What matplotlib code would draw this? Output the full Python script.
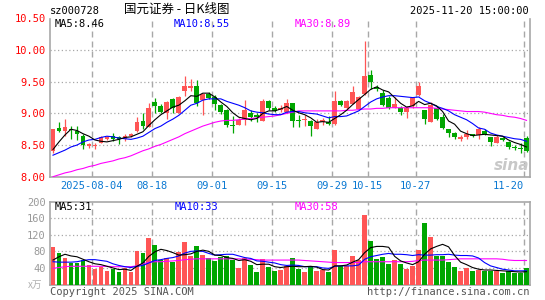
import matplotlib
matplotlib.use('Agg')
import matplotlib.pyplot as plt

# daily K line, sz000728, 2025-07-24 .. 2025-11-20 (80 trading days)
opens = [8.41, 8.77, 8.73, 8.76, 8.73, 8.64, 8.49, 8.49, 8.54, 8.60,
         8.65, 8.63, 8.60, 8.65, 8.72, 8.88, 8.79, 9.18, 9.12, 9.01,
         9.23, 9.01, 9.35, 9.40, 9.44, 9.21, 9.30, 9.26, 9.13, 9.05,
         8.82, 8.82, 8.89, 9.00, 8.97, 8.88, 9.20, 9.08, 9.05, 9.03,
         9.17, 8.90, 8.89, 8.88, 8.75, 8.87, 8.86, 8.83, 9.19, 9.08,
         9.15, 9.07, 9.31, 9.61, 9.41, 9.33, 9.25, 9.09, 9.09, 9.03,
         9.11, 9.29, 9.06, 8.87, 9.09, 8.94, 8.75, 8.69, 8.59, 8.62,
         8.67, 8.66, 8.73, 8.62, 8.54, 8.61, 8.55, 8.47, 8.45, 8.61]
highs = [8.76, 8.87, 8.91, 8.80, 8.80, 8.68, 8.54, 8.54, 8.64, 8.64,
         8.69, 8.64, 8.67, 8.69, 8.94, 9.00, 9.16, 9.25, 9.15, 9.19,
         9.24, 9.27, 9.59, 9.54, 9.53, 9.31, 9.34, 9.29, 9.15, 9.07,
         8.96, 8.92, 9.21, 9.05, 9.00, 9.22, 9.21, 9.11, 9.13, 9.22,
         9.17, 8.97, 8.97, 8.90, 8.91, 8.92, 8.96, 9.35, 9.21, 9.21,
         9.43, 9.27, 10.14, 9.68, 9.45, 9.37, 9.28, 9.26, 9.12, 9.12,
         9.25, 9.50, 9.06, 9.18, 9.12, 8.99, 8.75, 8.71, 8.66, 8.74,
         8.68, 8.78, 8.75, 8.63, 8.66, 8.62, 8.57, 8.50, 8.53, 8.64]
lows = [8.38, 8.71, 8.64, 8.60, 8.58, 8.44, 8.46, 8.43, 8.53, 8.58,
        8.56, 8.52, 8.57, 8.63, 8.71, 8.75, 8.78, 9.01, 9.00, 8.91,
        9.00, 9.00, 9.27, 9.35, 9.12, 8.97, 9.23, 9.06, 8.99, 8.79,
        8.69, 8.81, 8.82, 8.88, 8.87, 8.88, 9.05, 9.02, 9.03, 9.00,
        8.79, 8.79, 8.80, 8.64, 8.75, 8.82, 8.82, 8.82, 9.12, 9.07,
        9.15, 9.05, 9.29, 9.39, 9.36, 9.12, 9.07, 9.08, 8.98, 8.93,
        9.08, 9.27, 8.83, 8.86, 8.89, 8.76, 8.63, 8.59, 8.57, 8.60,
        8.62, 8.60, 8.66, 8.49, 8.53, 8.56, 8.44, 8.42, 8.38, 8.39]
closes = [8.75, 8.73, 8.78, 8.74, 8.67, 8.50, 8.51, 8.50, 8.62, 8.63,
          8.60, 8.59, 8.64, 8.67, 8.86, 8.80, 9.08, 9.11, 9.03, 9.18,
          9.09, 9.26, 9.43, 9.43, 9.16, 9.31, 9.25, 9.15, 9.03, 8.81,
          8.80, 8.89, 9.05, 8.94, 8.94, 9.20, 9.08, 9.04, 9.08, 9.17,
          8.88, 8.88, 8.90, 8.80, 8.86, 8.89, 8.84, 9.19, 9.13, 9.19,
          9.34, 9.26, 9.59, 9.50, 9.39, 9.13, 9.09, 9.15, 9.03, 9.09,
          9.24, 9.43, 8.91, 9.13, 8.91, 8.77, 8.69, 8.63, 8.62, 8.68,
          8.64, 8.75, 8.67, 8.55, 8.63, 8.58, 8.47, 8.45, 8.44, 8.41]

# price moving averages as shown on the chart
ma5 = [8.43, 8.55, 8.66, 8.75, 8.73, 8.68, 8.64, 8.58, 8.56, 8.55,
       8.57, 8.59, 8.62, 8.63, 8.67, 8.71, 8.81, 8.90, 8.98, 9.04,
       9.10, 9.13, 9.20, 9.28, 9.27, 9.32, 9.32, 9.26, 9.18, 9.11,
       9.01, 8.94, 8.92, 8.90, 8.92, 9.00, 9.04, 9.04, 9.07, 9.11,
       9.05, 9.01, 8.98, 8.93, 8.86, 8.87, 8.86, 8.92, 8.98, 9.05,
       9.14, 9.22, 9.30, 9.38, 9.42, 9.37, 9.34, 9.25, 9.16, 9.10,
       9.12, 9.19, 9.14, 9.16, 9.12, 9.03, 8.88, 8.83, 8.72, 8.68,
       8.65, 8.66, 8.67, 8.66, 8.65, 8.64, 8.58, 8.54, 8.51, 8.47]
ma10 = [8.34, 8.38, 8.42, 8.47, 8.50, 8.55, 8.58, 8.59, 8.62, 8.64,
        8.63, 8.61, 8.60, 8.59, 8.61, 8.64, 8.70, 8.76, 8.80, 8.86,
        8.91, 8.97, 9.05, 9.13, 9.16, 9.21, 9.23, 9.23, 9.23, 9.19,
        9.16, 9.13, 9.09, 9.04, 9.02, 9.01, 8.99, 8.98, 8.98, 9.02,
        9.03, 9.03, 9.01, 9.00, 8.99, 8.96, 8.93, 8.95, 8.95, 8.96,
        9.00, 9.04, 9.11, 9.18, 9.23, 9.26, 9.28, 9.28, 9.27, 9.26,
        9.25, 9.26, 9.20, 9.16, 9.11, 9.08, 9.04, 8.98, 8.94, 8.90,
        8.84, 8.77, 8.75, 8.69, 8.66, 8.64, 8.62, 8.60, 8.59, 8.56]
ma30 = [8.00, 8.03, 8.06, 8.08, 8.11, 8.13, 8.16, 8.18, 8.21, 8.23,
        8.25, 8.28, 8.30, 8.33, 8.37, 8.41, 8.44, 8.48, 8.51, 8.55,
        8.59, 8.63, 8.68, 8.72, 8.76, 8.80, 8.83, 8.86, 8.88, 8.89,
        8.89, 8.90, 8.91, 8.92, 8.93, 8.94, 8.95, 8.96, 8.98, 9.00,
        9.02, 9.04, 9.04, 9.04, 9.04, 9.04, 9.04, 9.04, 9.04, 9.05,
        9.05, 9.06, 9.07, 9.07, 9.08, 9.08, 9.09, 9.09, 9.09, 9.09,
        9.09, 9.09, 9.09, 9.09, 9.08, 9.07, 9.06, 9.05, 9.04, 9.03,
        9.03, 9.03, 9.02, 9.00, 8.98, 8.97, 8.95, 8.94, 8.92, 8.89]

# volume, x10k shares
volume = [91, 77, 63, 52, 51, 60, 47, 38, 43, 33,
          37, 31, 40, 31, 81, 77, 112, 95, 59, 65,
          55, 79, 103, 69, 93, 71, 63, 57, 67, 69,
          59, 40, 65, 47, 31, 61, 43, 33, 35, 45,
          65, 37, 31, 44, 33, 34, 31, 83, 44, 44,
          68, 59, 168, 105, 62, 67, 49, 59, 49, 38,
          44, 83, 149, 114, 69, 69, 55, 43, 33, 41,
          33, 36, 33, 33, 33, 28, 33, 28, 28, 41]
vol_ma5 = [59, 67, 73, 69, 67, 61, 55, 50, 48, 44,
           40, 36, 37, 34, 44, 52, 68, 79, 85, 82,
           77, 71, 72, 74, 80, 83, 80, 71, 70, 65,
           63, 58, 60, 56, 48, 49, 49, 43, 41, 43,
           44, 43, 43, 44, 42, 36, 35, 45, 45, 47,
           54, 60, 77, 89, 92, 92, 90, 68, 57, 52,
           48, 55, 73, 86, 92, 97, 91, 70, 54, 48,
           41, 37, 35, 35, 34, 33, 32, 31, 30, 31]
vol_ma10 = [55, 54, 54, 54, 55, 58, 60, 60, 58, 56,
            50, 46, 43, 41, 44, 46, 52, 58, 60, 63,
            65, 69, 76, 80, 81, 80, 75, 71, 72, 73,
            73, 69, 65, 63, 57, 56, 54, 52, 48, 46,
            47, 46, 43, 43, 43, 40, 39, 44, 45, 45,
            45, 47, 61, 67, 70, 73, 75, 73, 73, 72,
            70, 72, 71, 71, 72, 72, 73, 71, 70, 70,
            69, 64, 53, 45, 41, 37, 35, 33, 33, 33]
vol_ma30 = [39, 41, 43, 44, 44, 44, 44, 44, 44, 44,
            43, 43, 43, 43, 45, 50, 54, 55, 55, 56,
            57, 58, 60, 61, 62, 62, 62, 62, 62, 62,
            62, 62, 61, 61, 60, 59, 59, 59, 59, 59,
            59, 59, 58, 57, 56, 55, 54, 53, 53, 53,
            53, 53, 55, 55, 55, 55, 55, 55, 55, 55,
            56, 58, 59, 59, 59, 59, 60, 61, 62, 62,
            62, 62, 62, 62, 62, 61, 59, 58, 58, 58]

date_labels = ['2025-08-04', '08-18', '09-01', '09-15', '09-29', '10-15', '10-27', '11-20']
date_index = [7, 17, 27, 37, 47, 53, 61, 79]
price_ticks = [8.0, 8.5, 9.0, 9.5, 10.0, 10.5]
vol_ticks = [40, 80, 120, 160, 200]

RED = '#ff5555'
GREEN = '#00a600'
GRID = '#a8a8a8'
MONO = 'DejaVu Sans Mono'
CJK = ['Noto Sans CJK SC', 'DejaVu Sans']

W, H = 545, 300
fig = plt.figure(figsize=(W / 100, H / 100), dpi=100)


def box(l, t, r, b):
    return [l / W, 1 - b / H, (r - l) / W, (b - t) / H]


def txt(x, y, s, **kw):
    kw.setdefault('family', MONO)
    kw.setdefault('fontsize', 7.5)
    fig.text(x / W, 1 - y / H, s, va='center', **kw)


ax = fig.add_axes(box(50, 18.5, 529.5, 176.7))
axv = fig.add_axes(box(50, 201.7, 529.5, 284.5))

n = len(closes)
xs = list(range(n))
colors = [RED if c >= o else GREEN for o, c in zip(opens, closes)]

# candles
ax.vlines(xs, lows, highs, colors=colors, linewidth=0.9, zorder=3)
bottoms = [min(o, c) for o, c in zip(opens, closes)]
heights = [max(abs(c - o), 0.014) for o, c in zip(opens, closes)]
ax.bar(xs, heights, bottom=bottoms, width=0.8, color=colors, linewidth=0, zorder=4)
ax.plot(xs, ma30, color='#ff00ff', lw=0.8, zorder=5)
ax.plot(xs, ma10, color='#0000ff', lw=0.8, zorder=5)
ax.plot(xs, ma5, color='black', lw=0.8, zorder=5)

# volume
axv.bar(xs, volume, width=0.8, color=colors, linewidth=0, zorder=3)
axv.plot(xs, vol_ma30, color='#ff00ff', lw=0.8, zorder=5)
axv.plot(xs, vol_ma10, color='#0000ff', lw=0.8, zorder=5)
axv.plot(xs, vol_ma5, color='black', lw=0.8, zorder=5)

grid_x = [i - 0.5 for i in date_index]
for a in (ax, axv):
    a.set_xlim(-0.5, n - 0.5)
    for gx in grid_x:
        a.axvline(gx, color=GRID, lw=1.0, dashes=(4.3, 2.9), zorder=1)
    for s in a.spines.values():
        s.set_color(GRID)
        s.set_linewidth(1.2)
    a.tick_params(length=0)
    a.set_xticks([])

ax.spines['top'].set_visible(False)
ax.set_ylim(8.0, 10.5)
for yv in price_ticks[1:-1]:
    ax.axhline(yv, color=GRID, lw=0.9, ls=(0, (1, 2)), zorder=1)
ax.set_yticks(price_ticks)
ax.set_yticklabels(['%.2f' % v for v in price_ticks], color='red', family=MONO, fontsize=7.5)
ax.tick_params(axis='y', pad=3)

axv.set_ylim(0, 200)
for yv in vol_ticks[:-1]:
    axv.axhline(yv, color=GRID, lw=0.9, ls=(0, (1, 2)), zorder=1)
axv.set_yticks(vol_ticks)
axv.set_yticklabels([str(v) for v in vol_ticks], color='#999999', family=MONO, fontsize=7.5)
axv.tick_params(axis='y', pad=3)

# date labels under the price panel (last one sits left of its line)
for k, (lab, gx) in enumerate(zip(date_labels, grid_x)):
    last = k == len(date_labels) - 1
    ax.text(gx, -0.057, lab, transform=ax.get_xaxis_transform(),
            ha='right' if last else 'center', va='center',
            family=MONO, fontsize=7.5, color='#0a78d2')

# header texts
txt(50, 11, 'sz000728', color='black')
txt(177, 9, '国元证券 - 日K线图', family=CJK, fontsize=9, ha='center', color='black')
txt(529, 11.5, '2025-11-20 15:00:00', ha='right', color='black')

txt(55, 24, 'MA5:8.46', color='black')
txt(174, 24, 'MA10:8.55', color='#0000ff')
txt(295, 24, 'MA30:8.89', color='#ff00ff')

txt(55, 206.5, 'MA5:31', color='black')
txt(175, 206.5, 'MA10:33', color='#0000ff')
txt(295, 206.5, 'MA30:58', color='#ff00ff')

txt(28, 285, 'x万', family=CJK, fontsize=7, color='#b0b0b0', style='italic')
txt(50, 292, 'Copyright 2025 SINA.COM', color='#555555')
txt(529, 292, 'http://finance.sina.com.cn', ha='right', color='#555555')

# sina watermark
txt(512, 165, 'sina', family='DejaVu Sans', fontsize=11, weight='bold', style='italic',
    ha='center', color='#c8c8c8')

fig.savefig('out.png', dpi=100, facecolor='white')
